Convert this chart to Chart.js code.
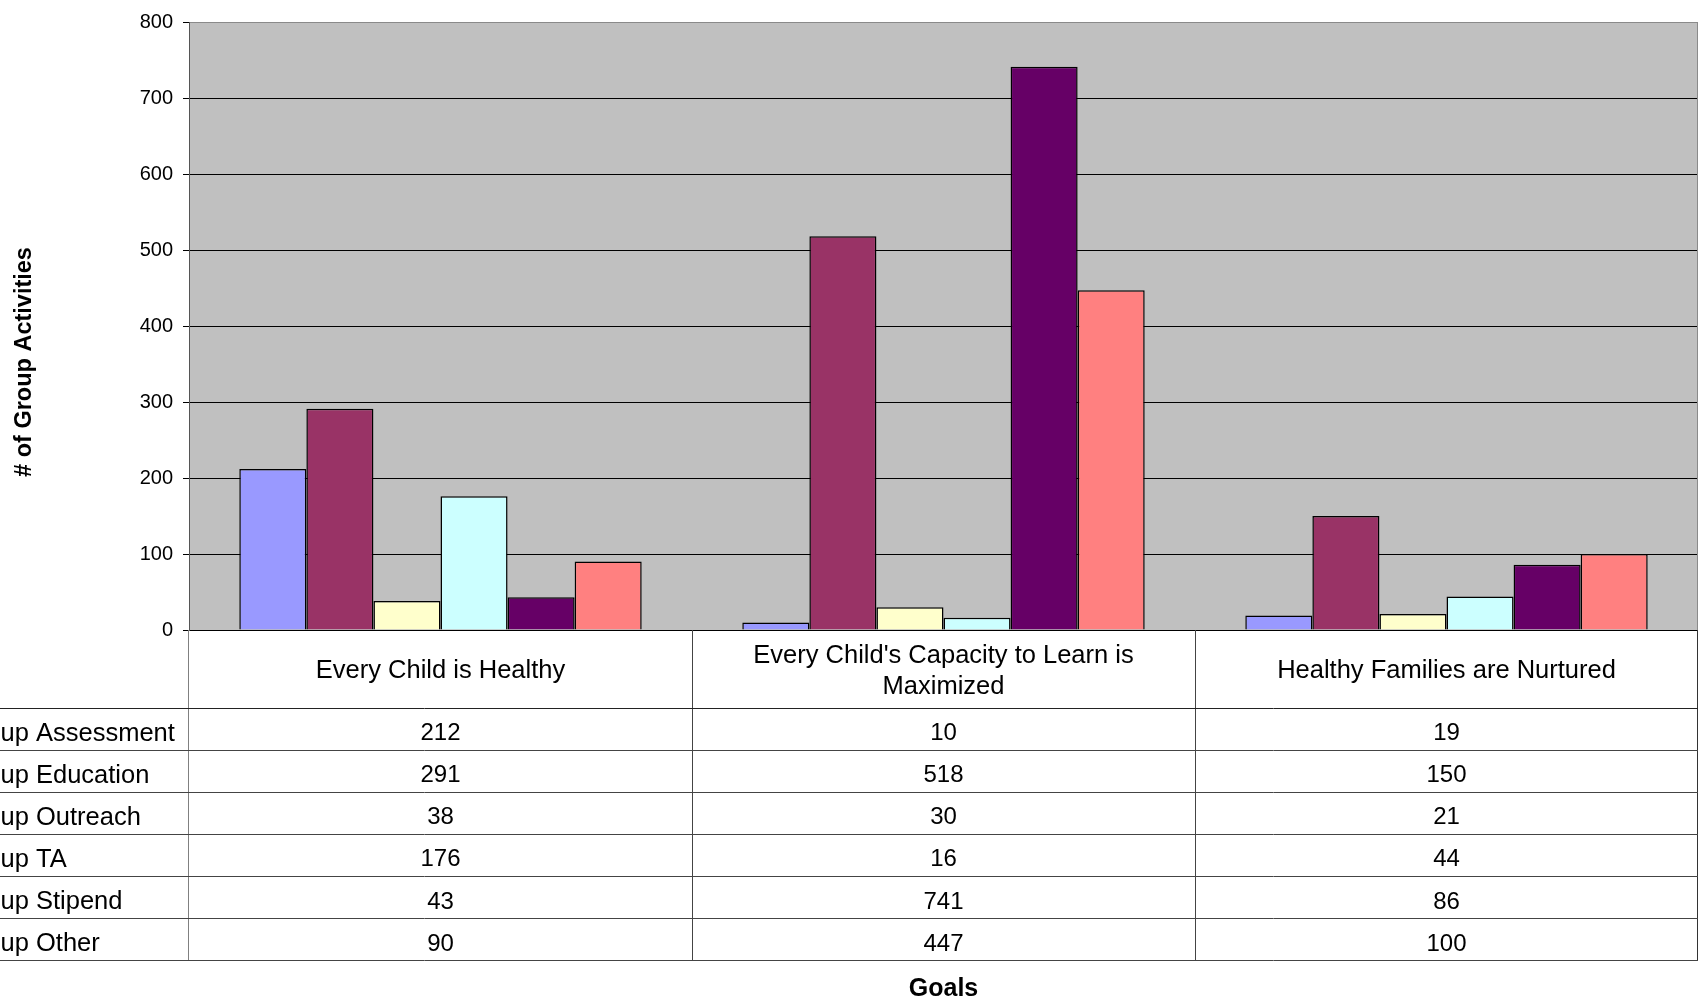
<!DOCTYPE html>
<html>
<head>
<meta charset="utf-8">
<title># of Group Activities by Goal</title>
<script src="https://cdn.jsdelivr.net/npm/chart.js@4.4.1/dist/chart.umd.min.js"></script>
<style>
  html, body { margin: 0; padding: 0; background: #ffffff; overflow: hidden; }
  #wrap { width: 1700px; height: 998px; position: relative; }
</style>
</head>
<body>
<div id="wrap"><canvas id="chart" width="1700" height="998"></canvas></div>
<script>
// Goal categories (multi-line labels are split into arrays)
const goals = [
  ["Every Child is Healthy"],
  ["Every Child's Capacity to Learn is", "Maximized"],
  ["Healthy Families are Nurtured"]
];

// Activity types (one series each)
const seriesNames = [
  "Group Assessment",
  "Group Education",
  "Group Outreach",
  "Group TA",
  "Group Stipend",
  "Group Other"
];

// Number of group activities per goal
const groupAssessment = [212, 10, 19];
const groupEducation  = [291, 518, 150];
const groupOutreach   = [38, 30, 21];
const groupTA         = [176, 16, 44];
const groupStipend    = [43, 741, 86];
const groupOther      = [90, 447, 100];

// Value axis ticks
const yTicks = [0, 100, 200, 300, 400, 500, 600, 700, 800];

const seriesValues = [groupAssessment, groupEducation, groupOutreach, groupTA, groupStipend, groupOther];
const seriesColors = ["#9999FF", "#993366", "#FFFFCC", "#CCFFFF", "#660066", "#FF8080"];

const FONT = '"Liberation Sans", Arial, Helvetica, sans-serif';
Chart.defaults.font.family = FONT;
Chart.defaults.color = "#000";

// Data-table layout below the plot
const TABLE = {
  headerBottom: 707.5,
  rowHeight: 42.1,
  labelX: -42,
  textShift: 5,
  labelFont: "25.5px " + FONT,
  valueFont: "24px " + FONT,
  titleFont: "bold 23.5px " + FONT
};

function hLine(ctx, x1, x2, y, color) {
  const yy = Math.round(y) + 0.5;
  ctx.strokeStyle = color;
  ctx.beginPath(); ctx.moveTo(x1, yy); ctx.lineTo(x2, yy); ctx.stroke();
}
function vLine(ctx, x, y1, y2, color) {
  const xx = Math.round(x) + 0.5;
  ctx.strokeStyle = color;
  ctx.beginPath(); ctx.moveTo(xx, y1); ctx.lineTo(xx, y2); ctx.stroke();
}

const dataTablePlugin = {
  id: "dataTable",
  beforeDraw(chart) {
    const { ctx, chartArea: a } = chart;
    ctx.save();
    ctx.fillStyle = "#C0C0C0";
    ctx.fillRect(a.left, a.top, a.right - a.left, a.bottom - a.top);
    ctx.restore();
  },
  afterDraw(chart) {
    const { ctx, chartArea: a, scales: { x } } = chart;
    const rows = chart.data.datasets;
    const tableBottom = TABLE.headerBottom + rows.length * TABLE.rowHeight;

    ctx.save();
    ctx.lineWidth = 1;

    // plot frame (right side) and table frame
    vLine(ctx, a.right - 1, a.top, a.bottom, "#8a8a8a");
    vLine(ctx, a.right - 1, a.bottom, tableBottom, "#333");
    vLine(ctx, a.left - 1, a.bottom, tableBottom, "#808080");

    // separators between goal columns
    const n = chart.data.labels.length;
    for (let i = 1; i < n; i++) {
      const bx = (x.getPixelForValue(i - 1) + x.getPixelForValue(i)) / 2;
      vLine(ctx, bx, a.bottom, tableBottom, "#444");
    }

    // row rules
    for (let r = 0; r <= rows.length; r++) {
      hLine(ctx, 0, a.right, TABLE.headerBottom + r * TABLE.rowHeight, r === 0 ? "#222" : "#444");
    }

    // row labels and values
    ctx.fillStyle = "#000";
    ctx.textBaseline = "middle";
    rows.forEach((ds, r) => {
      const cy = TABLE.headerBottom + (r + 0.5) * TABLE.rowHeight + TABLE.textShift;
      ctx.font = TABLE.labelFont;
      ctx.textAlign = "left";
      ctx.fillText(ds.label, TABLE.labelX, cy);
      ctx.font = TABLE.valueFont;
      ctx.textAlign = "center";
      ds.data.forEach((v, i) => {
        ctx.fillText(String(v), x.getPixelForValue(i), cy);
      });
    });

    // value-axis title
    ctx.translate(25, 362);
    ctx.rotate(-Math.PI / 2);
    ctx.font = TABLE.titleFont;
    ctx.textAlign = "center";
    ctx.fillText("# of Group Activities", 0, 0);
    ctx.restore();
  }
};

new Chart(document.getElementById("chart"), {
  type: "bar",
  data: {
    labels: goals,
    datasets: seriesNames.map((name, i) => ({
      label: name,
      data: seriesValues[i],
      backgroundColor: seriesColors[i],
      borderColor: "#000",
      borderWidth: 1.5,
      categoryPercentage: 0.8,
      barPercentage: 1.0
    }))
  },
  options: {
    responsive: false,
    animation: false,
    devicePixelRatio: 1,
    layout: { padding: { top: 20, right: 2, left: 0, bottom: 0 } },
    plugins: {
      legend: { display: false },
      tooltip: { enabled: false }
    },
    scales: {
      x: {
        type: "category",
        offset: true,
        grid: { display: false, drawTicks: false },
        border: { display: false },
        ticks: {
          font: { size: 25.5, lineHeight: 1.22 },
          color: "#000",
          maxRotation: 0,
          minRotation: 0,
          autoSkip: false,
          padding: 25.5,
          crossAlign: "center"
        },
        title: {
          display: true,
          text: "Goals",
          font: { size: 25, weight: "bold" },
          color: "#000",
          padding: { top: 0, bottom: -6 }
        },
        afterFit(scale) { scale.height = 368; }
      },
      y: {
        min: 0,
        max: 800,
        afterBuildTicks(scale) { scale.ticks = yTicks.map(v => ({ value: v })); },
        ticks: { font: { size: 20 }, color: "#000", padding: 10 },
        grid: {
          color: c => (c.tick && c.tick.value === 800 ? "#8a8a8a" : "#000"),
          tickColor: "#000",
          lineWidth: 1,
          tickLength: 6,
          drawTicks: true
        },
        border: { display: true, color: "#555", width: 1 },
        afterFit(scale) { scale.width = 189; }
      }
    }
  },
  plugins: [dataTablePlugin]
});
</script>
</body>
</html>
